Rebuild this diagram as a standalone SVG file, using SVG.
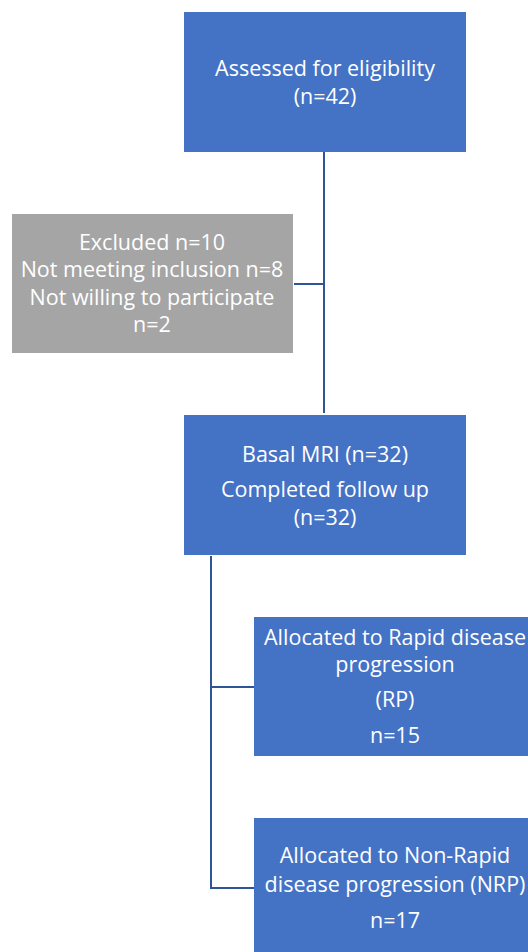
<svg xmlns="http://www.w3.org/2000/svg" width="528" height="952" viewBox="0 0 528 952">
<style>
.b{fill:#4472C4}
.g{fill:#A5A5A5}
text{font-family:"Open Sans","Liberation Sans",sans-serif;font-size:21.5px;fill:#fff;text-anchor:middle}
.c{stroke:#2F5597;stroke-width:2;fill:none}
</style>
<rect width="528" height="952" fill="#fff"/>
<g id="connectors">
<path class="c" d="M324 152V413"/>
<path class="c" d="M294 284H324"/>
<path class="c" d="M211 556V888H254"/>
<path class="c" d="M211 687H254"/>
</g>
<g id="assessed">
<rect class="b" x="184" y="12" width="282" height="140"/>
<text x="325" y="76">Assessed for eligibility</text>
<text x="325" y="104">(n=42)</text>
</g>
<g id="excluded">
<rect class="g" x="12" y="214" width="281" height="139"/>
<text x="152" y="250">Excluded n=10</text>
<text x="152" y="277">Not meeting inclusion n=8</text>
<text x="152" y="305">Not willing to participate</text>
<text x="152" y="332">n=2</text>
</g>
<g id="basal">
<rect class="b" x="184" y="415" width="282" height="140"/>
<text x="325" y="462">Basal MRI (n=32)</text>
<text x="325" y="497">Completed follow up</text>
<text x="325" y="525">(n=32)</text>
</g>
<g id="rp">
<rect class="b" x="254" y="617" width="290" height="139"/>
<text x="395" y="645">Allocated to Rapid disease</text>
<text x="395" y="672">progression</text>
<text x="395" y="707">(RP)</text>
<text x="395" y="743">n=15</text>
</g>
<g id="nrp">
<rect class="b" x="254" y="818" width="290" height="140"/>
<text x="395" y="863">Allocated to Non-Rapid</text>
<text x="395" y="892">disease progression (NRP)</text>
<text x="395" y="928">n=17</text>
</g>
</svg>
